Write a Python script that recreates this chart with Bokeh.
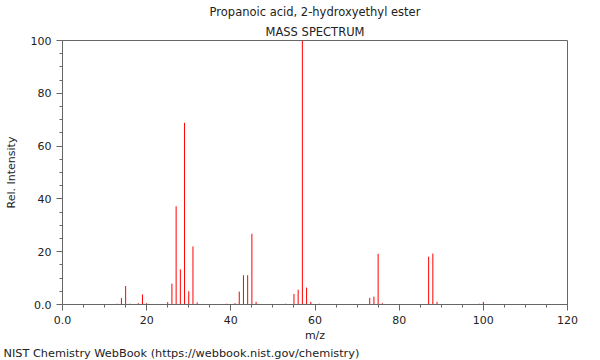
from bokeh.plotting import figure
from bokeh.models import ColumnDataSource, FixedTicker, Title, Range1d
from bokeh.embed import file_html
from bokeh.resources import INLINE

title_main = "Propanoic acid, 2-hydroxyethyl ester"
title_sub = "MASS SPECTRUM"
note = "NIST Chemistry WebBook (https://webbook.nist.gov/chemistry)"
x_title = "m/z"
y_title = "Rel. Intensity"

mz = [13, 14, 15, 16, 18, 19, 20, 25, 26, 27, 28, 29, 30, 31, 32, 33, 35,
      39, 41, 42, 43, 44, 45, 46, 53, 55, 56, 57, 58, 59, 61,
      73, 74, 75, 76, 87, 88, 89, 99, 100]
intensity = [0.3, 2.4, 7.0, 0.3, 0.5, 3.8, 0.5, 0.9, 7.9, 37.2, 13.3, 68.8, 5.0, 22.0, 0.8, 0.2, 0.2,
             0.3, 0.5, 4.9, 11.1, 11.1, 26.8, 1.0, 0.3, 4.0, 5.6, 100.0, 6.4, 1.0, 0.3,
             2.5, 3.0, 19.2, 0.5, 18.1, 19.3, 1.0, 0.3, 1.0]
base = [0] * len(mz)

x_ticks = [0, 20, 40, 60, 80, 100, 120]
x_labels = ["0.0", "20", "40", "60", "80", "100", "120"]
y_ticks = [0, 20, 40, 60, 80, 100]
y_labels = ["0.0", "20", "40", "60", "80", "100"]

FONT = "DejaVu Sans"
TXT = "#222222"
AX = "#666666"

p = figure(width=600, height=360, output_backend="svg", toolbar_location=None,
           x_range=Range1d(0, 120), y_range=Range1d(0, 100),
           min_border_left=62, min_border_right=33, min_border_top=40, min_border_bottom=56)
p.grid.visible = False
p.outline_line_color = AX
p.background_fill_color = "white"

src = ColumnDataSource(dict(x=mz, y0=base, y1=intensity))
p.segment(x0="x", y0="y0", x1="x", y1="y1", source=src, line_color="#ff0000", line_width=1)

for ax, ticks, labels in ((p.xaxis[0], x_ticks, x_labels), (p.yaxis[0], y_ticks, y_labels)):
    ax.ticker = FixedTicker(ticks=ticks, minor_ticks=[v for v in range(0, 121, 5)])
    ax.major_label_overrides = {t: l for t, l in zip(ticks, labels)}
    ax.axis_line_color = AX
    ax.major_tick_line_color = AX
    ax.minor_tick_line_color = AX
    ax.major_tick_out = 6
    ax.major_tick_in = 0
    ax.minor_tick_out = 3
    ax.minor_tick_in = 0
    ax.major_label_text_font = FONT
    ax.major_label_text_font_size = "11px"
    ax.major_label_text_color = TXT
    ax.axis_label_text_font = FONT
    ax.axis_label_text_font_size = "11px"
    ax.axis_label_text_font_style = "normal"
    ax.axis_label_text_color = TXT

p.xaxis.axis_label = x_title
p.yaxis.axis_label = y_title
p.xaxis.major_label_standoff = 5
p.xaxis.axis_label_standoff = 2
p.yaxis.axis_label_standoff = 10

p.add_layout(Title(text=title_sub, align="center", text_font=FONT, text_font_size="11.5px",
                   text_font_style="normal", text_color=TXT, standoff=4), "above")
p.add_layout(Title(text=title_main, align="center", text_font=FONT, text_font_size="11.5px",
                   text_font_style="normal", text_color=TXT, standoff=4), "above")
p.add_layout(Title(text=note, align="left", text_font=FONT, text_font_size="11.3px",
                   text_font_style="normal", text_color=TXT, standoff=0, offset=-59), "below")

open("out.html", "w").write(file_html(p, INLINE))
